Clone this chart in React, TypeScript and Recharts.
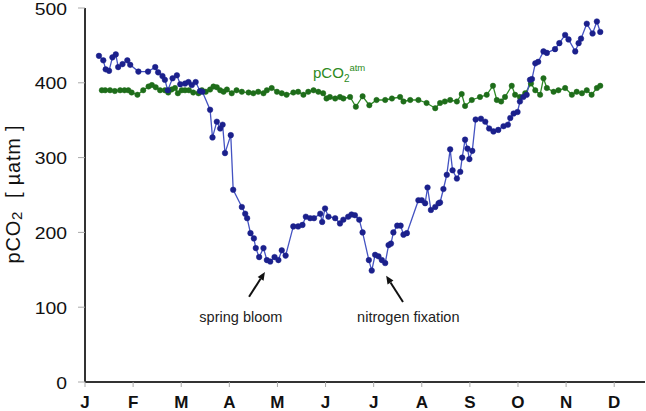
import { Line, LineChart, ReferenceDot, ReferenceLine, XAxis, YAxis } from 'recharts';

const FONT = "Arial, 'Liberation Sans', Helvetica, sans-serif";

// x in months since 1 Jan (0 = J, 11 = D)
const monthTicks = [0, 1, 2, 3, 4, 5, 6, 7, 8, 9, 10, 11];
const monthLabels = ['J', 'F', 'M', 'A', 'M', 'J', 'J', 'A', 'S', 'O', 'N', 'D'];
const pco2Ticks = [0, 100, 200, 300, 400, 500];

// surface water pCO2 (blue)
const seaMonth = [
  0.29, 0.38, 0.43, 0.5, 0.57, 0.64, 0.69, 0.78, 0.88, 0.94, 1.11, 1.31, 1.46, 1.52, 1.61, 1.66, 1.72, 1.82,
  1.91, 1.98, 2.08, 2.15, 2.22, 2.3, 2.39, 2.44, 2.6, 2.65, 2.74, 2.81, 2.86, 2.91, 3.03, 3.08, 3.26, 3.33,
  3.37, 3.44, 3.51, 3.55, 3.62, 3.71, 3.78, 3.85, 3.94, 4.02, 4.09, 4.17, 4.33, 4.43, 4.52, 4.59, 4.68, 4.76,
  4.89, 4.93, 4.99, 5.06, 5.2, 5.3, 5.37, 5.47, 5.54, 5.61, 5.7, 5.77, 5.9, 5.96, 6.03, 6.1, 6.17, 6.24, 6.31,
  6.36, 6.41, 6.49, 6.56, 6.62, 6.69, 6.93, 7.0, 7.07, 7.12, 7.19, 7.28, 7.35, 7.38, 7.45, 7.52, 7.59, 7.64,
  7.73, 7.8, 7.84, 7.9, 7.95, 7.99, 8.05, 8.12, 8.23, 8.32, 8.4, 8.49, 8.59, 8.7, 8.79, 8.84, 8.91, 8.99,
  9.04, 9.11, 9.18, 9.25, 9.29, 9.36, 9.42, 9.53, 9.6, 9.77, 9.86, 9.98, 10.05, 10.19, 10.26, 10.31, 10.43,
  10.55, 10.64, 10.71,
];
const seaPco2 = [
  436, 430, 418, 416, 434, 438, 421, 425, 430, 424, 415, 415, 421, 414, 409, 404, 390, 406,
  410, 398, 399, 401, 397, 401, 389, 388, 364, 327, 348, 339, 344, 306, 330, 257, 234, 225,
  219, 199, 192, 179, 167, 179, 163, 161, 167, 163, 176, 169, 208, 208, 210, 221, 219, 219,
  225, 214, 232, 221, 219, 212, 217, 221, 224, 223, 217, 200, 163, 149, 170, 168, 163, 159, 183,
  185, 200, 209, 209, 197, 199, 243, 243, 239, 260, 230, 234, 239, 240, 258, 277, 311, 283,
  272, 281, 300, 324, 312, 298, 309, 351, 352, 348, 339, 335, 337, 342, 344, 353, 359, 361,
  375, 381, 384, 404, 405, 426, 428, 442, 440, 445, 453, 464, 458, 442, 453, 459, 479,
  466, 482, 468,
];

// atmospheric pCO2 (green)
const atmMonth = [
  0.35, 0.42, 0.52, 0.62, 0.73, 0.82, 0.9, 0.97, 1.09, 1.21, 1.32, 1.39, 1.47, 1.56, 1.66, 1.73, 1.8, 1.87,
  1.93, 2.01, 2.08, 2.16, 2.25, 2.36, 2.43, 2.51, 2.6, 2.67, 2.74, 2.81, 2.88, 2.95, 3.05, 3.15, 3.26, 3.4,
  3.5, 3.6, 3.71, 3.78, 3.88, 3.99, 4.09, 4.19, 4.33, 4.43, 4.54, 4.64, 4.75, 4.85, 4.95, 5.02, 5.09, 5.2,
  5.3, 5.37, 5.51, 5.63, 5.77, 5.91, 6.06, 6.24, 6.38, 6.55, 6.62, 6.76, 6.93, 7.1, 7.28, 7.38, 7.48, 7.59,
  7.73, 7.83, 7.9, 8.04, 8.21, 8.35, 8.48, 8.56, 8.65, 8.73, 8.87, 8.94, 9.04, 9.15, 9.27, 9.36, 9.46, 9.53,
  9.6, 9.74, 9.84, 9.98, 10.12, 10.22, 10.33, 10.43, 10.53, 10.64, 10.71,
];
const atmPco2 = [
  390, 390, 390, 389, 390, 390, 390, 387, 384, 390, 395, 397, 394, 390, 390, 387, 391, 393,
  386, 390, 390, 390, 387, 386, 390, 388, 391, 395, 394, 390, 388, 391, 386, 390, 388, 387,
  386, 388, 386, 390, 393, 388, 386, 384, 387, 388, 384, 388, 390, 388, 386, 379, 381, 379,
  381, 379, 381, 368, 382, 370, 377, 377, 379, 381, 375, 377, 377, 373, 366, 373, 375, 377,
  375, 385, 369, 377, 381, 384, 396, 377, 375, 381, 396, 384, 381, 386, 399, 390, 384, 406,
  393, 388, 390, 393, 384, 388, 386, 390, 384, 393, 396,
];

const seaData = seaMonth.map((month, i) => ({ month, pco2: seaPco2[i] }));
const atmData = atmMonth.map((month, i) => ({ month, pco2: atmPco2[i] }));

const renderArrow = (props: any) => {
  const { x1, y1, x2, y2 } = props;
  const ang = Math.atan2(y2 - y1, x2 - x1);
  const len = 8;
  const w = 3.5;
  const bx = x2 - len * Math.cos(ang);
  const by = y2 - len * Math.sin(ang);
  const px = -Math.sin(ang) * w;
  const py = Math.cos(ang) * w;
  return (
    <g>
      <line x1={x1} y1={y1} x2={bx} y2={by} stroke="#111" strokeWidth={2} />
      <polygon points={`${x2},${y2} ${bx + px},${by + py} ${bx - px},${by - py}`} fill="#111" />
    </g>
  );
};

const noteText = (text: string) => (props: any) => (
  <text x={props.cx} y={props.cy} dy="0.35em" textAnchor="middle" fontSize={14.5} fontFamily={FONT} fill="#222">
    {text}
  </text>
);

const atmLabel = (props: any) => (
  <text x={props.cx} y={props.cy} fontFamily={FONT} fill="#2c8a22" fontSize={15}>
    pCO
    <tspan fontSize={10} dy={4}>2</tspan>
    <tspan fontSize={9.5} dy={-11}>atm</tspan>
  </text>
);

// tick labels in the source are slightly stretched horizontally
const YTick = (props: any) => {
  const { x, y, payload } = props;
  return (
    <text
      x={0}
      y={0}
      transform={`translate(${x},${y + 0.5}) scale(1.14,1)`}
      dy="0.36em"
      textAnchor="end"
      fontSize={17}
      fontFamily={FONT}
      fill="#111"
    >
      {payload.value}
    </text>
  );
};

const yLabel = (props: any) => {
  const vb = props.viewBox || { x: 0, y: 8, height: 374 };
  const x = vb.x + 20;
  const y = vb.y + vb.height / 2 - 1;
  return (
    <text x={x} y={y} transform={`rotate(-90 ${x} ${y})`} textAnchor="middle" fontSize={20} fontFamily={FONT} fill="#111" letterSpacing={0.8}>
      pCO<tspan fontSize={15} dy={2}>2</tspan>
      <tspan dy={-2}>{'\u00a0\u00a0[ µatm ]'}</tspan>
    </text>
  );
};

export default function App() {
  return (
    <div style={{ position: 'absolute', left: 0, top: 0, width: 646, height: 411, background: '#fff' }}>
      <LineChart width={646} height={411} margin={{ top: 8, right: 1, bottom: 0, left: 0 }}>
        <XAxis
          dataKey="month"
          type="number"
          domain={[0, 11.64]}
          allowDataOverflow
          ticks={monthTicks}
          interval={0}
          tickFormatter={(v: number) => monthLabels[v]}
          height={29}
          tickSize={5}
          tickMargin={9}
          axisLine={{ stroke: '#333', strokeWidth: 2 }}
          tickLine={{ stroke: '#aaa' }}
          tick={{ fontSize: 17, fontWeight: 'bold', fill: '#111', fontFamily: FONT }}
        />
        <XAxis
          xAxisId="top"
          orientation="top"
          dataKey="month"
          type="number"
          domain={[0, 11.64]}
          allowDataOverflow
          height={0}
          tick={false}
          tickLine={false}
          axisLine={{ stroke: '#444', strokeWidth: 1.5 }}
        />
        <YAxis
          type="number"
          domain={[0, 500]}
          ticks={pco2Ticks}
          interval={0}
          width={85}
          tickSize={7}
          tickMargin={11}
          axisLine={{ stroke: '#333', strokeWidth: 2 }}
          tickLine={{ stroke: '#aaa' }}
          tick={YTick}
          label={{ content: yLabel }}
        />
        <YAxis
          yAxisId="right"
          orientation="right"
          type="number"
          domain={[0, 500]}
          width={0}
          tick={false}
          tickLine={false}
          axisLine={{ stroke: '#444', strokeWidth: 1.5 }}
        />
        <Line
          data={atmData}
          dataKey="pco2"
          type="linear"
          stroke="#2e8a26"
          strokeWidth={1.3}
          dot={{ r: 2.7, fill: '#1e6d1a', stroke: '#1e6d1a', strokeWidth: 0.5 }}
          isAnimationActive={false}
        />
        <Line
          data={seaData}
          dataKey="pco2"
          type="linear"
          stroke="#4453c2"
          strokeWidth={1.3}
          dot={{ r: 2.8, fill: '#1b208c', stroke: '#1b208c', strokeWidth: 0.5 }}
          isAnimationActive={false}
        />
        <ReferenceLine segment={[{ x: 3.41, y: 114 }, { x: 3.74, y: 147 }]} shape={renderArrow} />
        <ReferenceLine segment={[{ x: 6.61, y: 107 }, { x: 6.26, y: 142 }]} shape={renderArrow} />
        <ReferenceDot x={3.24} y={87} r={0} shape={noteText('spring bloom')} />
        <ReferenceDot x={6.72} y={87} r={0} shape={noteText('nitrogen fixation')} />
        <ReferenceDot x={4.74} y={407} r={0} shape={atmLabel} />
      </LineChart>
    </div>
  );
}
